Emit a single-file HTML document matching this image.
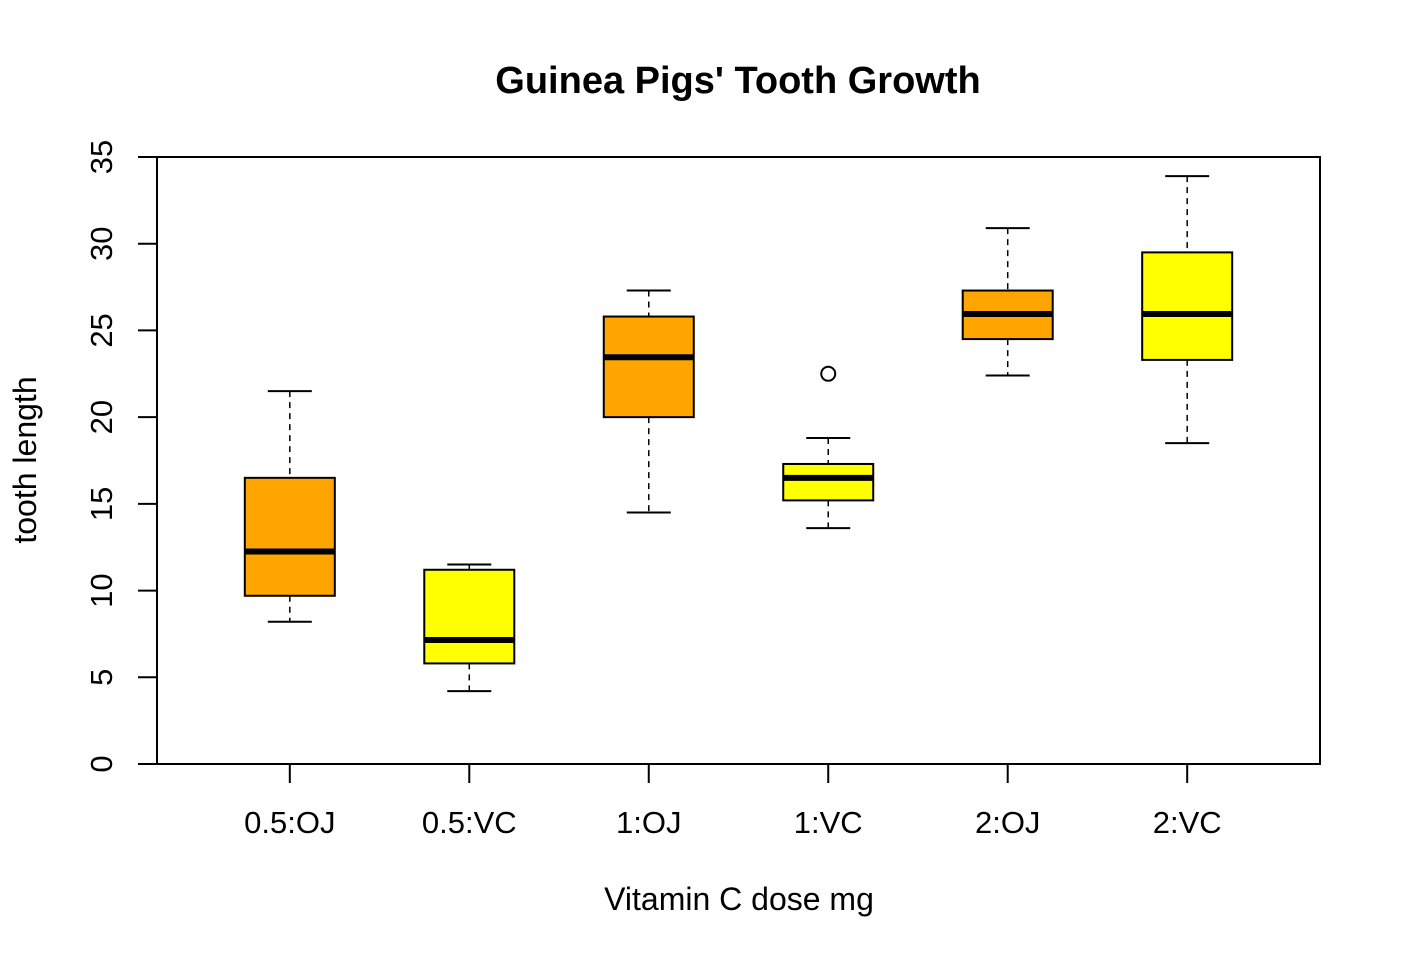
<!DOCTYPE html>
<html><head><meta charset="utf-8"><style>
html,body{margin:0;padding:0;background:#fff;}
svg{display:block;font-family:"Liberation Sans",sans-serif;}
</style></head><body>
<svg id="chart" width="1401" height="960" viewBox="0 0 1401 960"></svg>
<script>
const categories = ["0.5:OJ","0.5:VC","1:OJ","1:VC","2:OJ","2:VC"];
const mins = [8.2, 4.2, 14.5, 13.6, 22.4, 18.5];
const q1s = [9.7, 5.8, 20.0, 15.2, 24.5, 23.3];
const medians = [12.25, 7.15, 23.45, 16.5, 25.95, 25.95];
const q3s = [16.5, 11.2, 25.8, 17.3, 27.3, 29.5];
const maxs = [21.5, 11.5, 27.3, 18.8, 30.9, 33.9];
const outlierGroups = [3];
const outlierValues = [22.5];
const fills = ["#FFA500","#FFFF00","#FFA500","#FFFF00","#FFA500","#FFFF00"];
const yTicks = [0,5,10,15,20,25,30,35];

const NS="http://www.w3.org/2000/svg";
const svg=document.getElementById('chart');
const L=157,R=1320,T=157,B=764;
const y=v=>B-(v-0)/(35-0)*(B-T);
const x=i=>L+((i+1)-0.26)/6.48*(R-L);
function el(tag,attrs,text){const e=document.createElementNS(NS,tag);for(const k in attrs)e.setAttribute(k,attrs[k]);if(text!==undefined)e.textContent=text;svg.appendChild(e);return e;}

let t=el('text',{x:738,y:93,'text-anchor':'middle','font-size':38,'font-weight':'bold'},"Guinea Pigs' Tooth Growth");


t=el('text',{x:739,y:910,'text-anchor':'middle','font-size':32},"Vitamin C dose mg");


t=el('text',{x:36,y:460,'text-anchor':'middle','font-size':32,transform:'rotate(-90 36 460)'},"tooth length");



let f=el('rect',{x:L,y:T,width:R-L,height:B-T,fill:'none',stroke:'#000','stroke-width':2});



yTicks.forEach(v=>{
  const yy=y(v);
  const tk=el('line',{x1:138,y1:yy,x2:L,y2:yy,stroke:'#000','stroke-width':2});
  
  
  const lb=el('text',{x:112,y:yy,'text-anchor':'middle','font-size':31,transform:`rotate(-90 112 ${yy})`},String(v));
  
  
});

categories.forEach((c,i)=>{
  const cx=x(i);
  const tk=el('line',{x1:cx,y1:B,x2:cx,y2:783,stroke:'#000','stroke-width':2});
  
  
  const lb=el('text',{x:cx,y:833,'text-anchor':'middle','font-size':31},c);
  
  
  const w1=el('line',{x1:cx,y1:y(maxs[i]),x2:cx,y2:y(q3s[i]),stroke:'#000','stroke-width':1.5,'stroke-dasharray':'6,5'});
  
  
  const w2=el('line',{x1:cx,y1:y(q1s[i]),x2:cx,y2:y(mins[i]),stroke:'#000','stroke-width':1.5,'stroke-dasharray':'6,5'});
  
  
  const c1=el('line',{x1:cx-22,y1:y(maxs[i]),x2:cx+22,y2:y(maxs[i]),stroke:'#000','stroke-width':2});
  
  
  const c2=el('line',{x1:cx-22,y1:y(mins[i]),x2:cx+22,y2:y(mins[i]),stroke:'#000','stroke-width':2});
  
  
  const bx=el('rect',{x:cx-45,y:y(q3s[i]),width:90,height:y(q1s[i])-y(q3s[i]),fill:fills[i],stroke:'#000','stroke-width':2});
  
  
  const md=el('line',{x1:cx-45,y1:y(medians[i]),x2:cx+45,y2:y(medians[i]),stroke:'#000','stroke-width':6});
  
  
});

outlierGroups.forEach((g,k)=>{
  const o=el('circle',{cx:x(g),cy:y(outlierValues[k]),r:7,fill:'none',stroke:'#000','stroke-width':2});
  
  
});
</script>
</body></html>
